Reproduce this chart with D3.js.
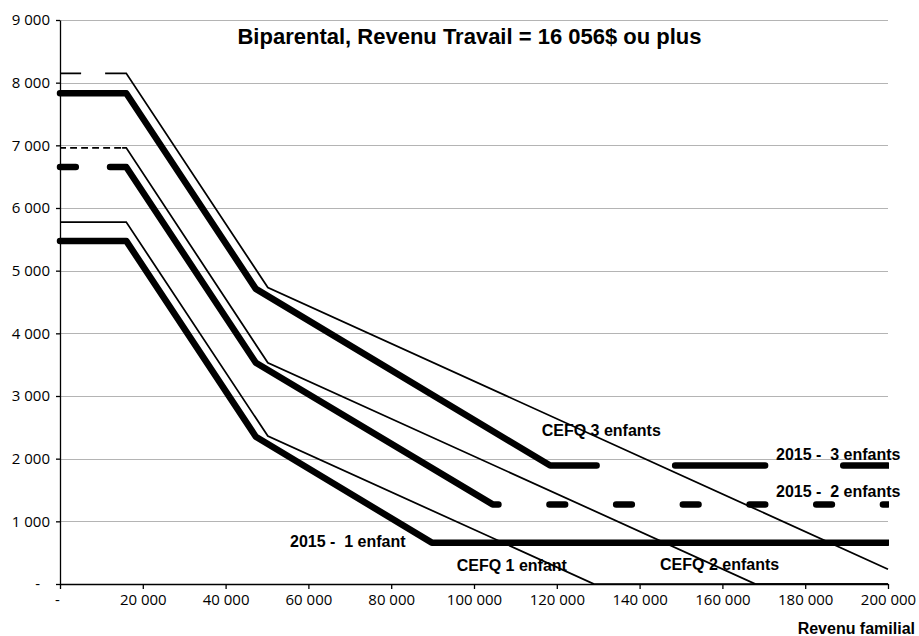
<!DOCTYPE html>
<html>
<head>
<meta charset="utf-8">
<script src="https://cdnjs.cloudflare.com/ajax/libs/d3/7.8.5/d3.min.js"></script>
<style>
  body { margin: 0; background: #fff; }
  .axis text { font-family: "Open Sans", sans-serif; font-size: 15px; fill: #000; }
  .axis path, .axis line { stroke: #000; stroke-width: 1.3; }
  .label { font-family: "Liberation Sans", Arial, sans-serif; font-weight: bold; font-size: 16px; fill: #000; white-space: pre; }
</style>
</head>
<body>
<div id="chart"></div>
<script>
// values ($ / year)
const xTicks = [0, 20000, 40000, 60000, 80000, 100000, 120000, 140000, 160000, 180000, 200000]
const yTicks = [0, 1000, 2000, 3000, 4000, 5000, 6000, 7000, 8000, 9000]

const cefq1Income = [0, 16000, 50200, 129000, 200000]
const cefq1Amount = [5775, 5775, 2360, 0, 0]
const cefq2Income = [0, 16000, 50200, 168000, 200000]
const cefq2Amount = [6960, 6960, 3530, 0, 0]
const cefq3Income = [0, 16000, 50200, 200000]
const cefq3Amount = [8150, 8150, 4730, 236]

const y2015Income1 = [0, 16000, 47300, 89800, 200000]
const y2015Amount1 = [5475, 5475, 2350, 660, 660]
const y2015Income2 = [0, 16000, 47300, 104500, 200000]
const y2015Amount2 = [6655, 6655, 3530, 1270, 1270]
const y2015Income3 = [0, 16000, 47300, 118400, 200000]
const y2015Amount3 = [7830, 7830, 4710, 1890, 1890]

const title = "Biparental, Revenu Travail = 16 056$ ou plus"
const xTitle = "Revenu familial"

const labels = [
  { text: "CEFQ 3 enfants", x: 116350, y: 2362 },
  { text: "2015 -  3 enfants", x: 172950, y: 1979 },
  { text: "2015 -  2 enfants", x: 172950, y: 1388 },
  { text: "2015 -  1 enfant", x: 55560, y: 595 },
  { text: "CEFQ 1 enfant", x: 95820, y: 212 },
  { text: "CEFQ 2 enfants", x: 144930, y: 223 }
]

// gaps of the dashed parts, in income units
function periodic(start, period, len, end) {
  const out = []
  for (let s = start; s < end; s += period) out.push([s, Math.min(s + len, end)])
  return out
}

const series = [
  { x: cefq1Income, y: cefq1Amount, w: 1.75, cap: "butt", gaps: [] },
  { x: cefq2Income, y: cefq2Amount, w: 1.75, cap: "butt", gaps: periodic(1450, 2660, 1000, 15000) },
  { x: cefq3Income, y: cefq3Amount, w: 1.75, cap: "butt", gaps: [[5100, 10900]] },
  { x: y2015Income1, y: y2015Amount1, w: 6.5, cap: "round", gaps: [] },
  { x: y2015Income2, y: y2015Amount2, w: 6.5, cap: "round", gaps: [[4600, 11300]].concat(periodic(106690, 16110, 10750, 200000)) },
  { x: y2015Income3, y: y2015Amount3, w: 6.5, cap: "round", gaps: [[130400, 147800], [171100, 188400]] }
]

const width = 919
const height = 636
const margin = { top: 20, right: 31, bottom: 52, left: 60 }

const xScale = d3.scaleLinear()
                  .domain([0, 200000])
                  .range([margin.left, width - margin.right])
const yScale = d3.scaleLinear()
                  .domain([0, 9000])
                  .range([height - margin.bottom, margin.top])

const locale = d3.formatLocale({ decimal: ",", thousands: " ", grouping: [3], currency: ["", "$"] })
const fmt = d => d === 0 ? "-" : locale.format(",")(d)

const svg = d3.select("#chart")
              .append("svg")
                .attr("width", width)
                .attr("height", height)

svg.append("defs").append("clipPath")
    .attr("id", "plot")
  .append("rect")
    .attr("x", 0)
    .attr("y", 0)
    .attr("width", xScale(200000) + 1)
    .attr("height", height)

// gridlines
svg.append("g")
    .selectAll("line")
    .data(yTicks.filter(d => d > 0)).enter()
    .append("line")
      .attr("x1", xScale(0))
      .attr("x2", xScale(200000))
      .attr("y1", d => Math.round(yScale(d)) + 0.5)
      .attr("y2", d => Math.round(yScale(d)) + 0.5)
      .attr("stroke", "#b4b4b4")
      .attr("stroke-width", 1)

const xAxis = d3.axisBottom(xScale).tickValues(xTicks).tickFormat(fmt).tickSizeInner(5).tickSizeOuter(0).tickPadding(5)
const gx = svg.append("g")
    .attr("class", "axis")
    .attr("transform", "translate(0," + yScale(0) + ")")
    .call(xAxis)
gx.selectAll(".tick text").filter(d => d === 0).attr("dx", -3)

const yAxis = d3.axisLeft(yScale).tickValues(yTicks).tickFormat(fmt).tickSizeInner(4).tickSizeOuter(0).tickPadding(6)
const gy = svg.append("g")
    .attr("class", "axis")
    .attr("transform", "translate(" + xScale(0) + ",0)")
    .call(yAxis)
gy.selectAll(".tick text").filter(d => d === 0).attr("dx", -10)

// turn gaps given in income into a dash array along the path
function dashArray(pts, gaps, cap) {
  if (!gaps.length) return null
  const cum = [0]
  for (let i = 1; i < pts.length; i++) {
    cum.push(cum[i - 1] + Math.hypot(pts[i][0] - pts[i - 1][0], pts[i][1] - pts[i - 1][1]))
  }
  const total = cum[cum.length - 1]
  const arcAt = px => {
    for (let i = 1; i < pts.length; i++) {
      if (px <= pts[i][0]) {
        const t = (px - pts[i - 1][0]) / (pts[i][0] - pts[i - 1][0])
        return cum[i - 1] + t * (cum[i] - cum[i - 1])
      }
    }
    return total
  }
  const out = []
  let pos = 0
  gaps.forEach(g => {
    const a = arcAt(xScale(g[0])) - cap
    const b = arcAt(xScale(g[1])) + cap
    out.push(Math.max(a - pos, 0.01), b - a)
    pos = b
  })
  out.push(total - pos + 20, 5000)
  return out.join(" ")
}

const line = d3.line()

const lines = svg.append("g").attr("clip-path", "url(#plot)")
series.forEach(s => {
  const pts = s.x.map((d, i) => [xScale(d), yScale(s.y[i])])
  lines.append("path")
      .attr("d", line(pts))
      .attr("fill", "none")
      .attr("stroke", "#000")
      .attr("stroke-width", s.w)
      .attr("stroke-linecap", s.cap)
      .attr("stroke-linejoin", s.cap === "round" ? "round" : "miter")
      .attr("stroke-dasharray", dashArray(pts, s.gaps, s.cap === "round" ? s.w / 2 : 0))
})

svg.append("g")
    .selectAll("text")
    .data(labels).enter()
    .append("text")
      .attr("class", "label")
      .attr("x", d => xScale(d.x))
      .attr("y", d => yScale(d.y))
      .text(d => d.text)

svg.append("text")
    .attr("class", "label")
    .attr("x", 469.5)
    .attr("y", 44)
    .attr("text-anchor", "middle")
    .style("font-size", "22px")
    .text(title)

svg.append("text")
    .attr("class", "label")
    .attr("x", 915)
    .attr("y", 634)
    .attr("text-anchor", "end")
    .text(xTitle)
</script>
</body>
</html>
